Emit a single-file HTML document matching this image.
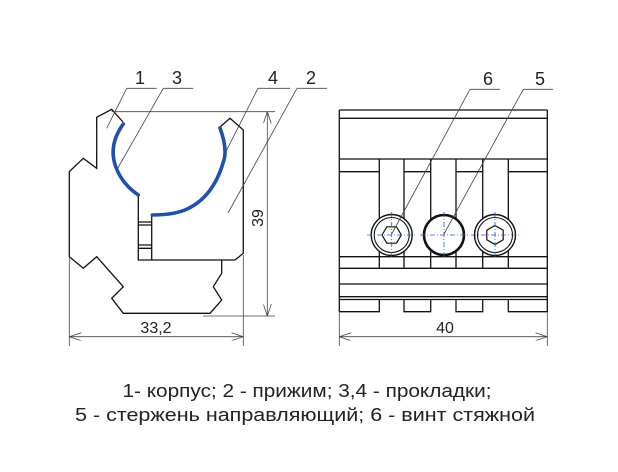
<!DOCTYPE html>
<html><head><meta charset="utf-8"><style>
html,body{margin:0;padding:0;background:#fff;}
svg{display:block;}
text{font-family:"Liberation Sans",Arial,sans-serif;fill:#222;}
</style></head><body>
<svg width="618" height="472" viewBox="0 0 618 472" xmlns="http://www.w3.org/2000/svg">
<defs>
<marker id="ar" viewBox="0 0 12 8" refX="12" refY="4" markerWidth="12" markerHeight="8" orient="auto-start-reverse" markerUnits="userSpaceOnUse">
<path d="M0,0 L12,4 L0,8" fill="none" stroke="#444" stroke-width="0.8"/>
</marker>
</defs>
<rect width="618" height="472" fill="#fff"/>
<g fill="none" stroke="#111" stroke-width="1.3" stroke-linejoin="miter">
<path d="M123,122 L111.7,109.3 L96.7,117.3 L96.7,168.3 L83.3,158.3 L69.3,171.7 L69.3,256.7 L83.3,268.3 L96.7,256.7 L123.3,286.7 L111.7,298.3 L123.3,313.3 L210,313.3 L221.7,300 L213.3,286.7 L221.7,273.3 L221.7,260 L235,260 L243.3,253.3 L243.3,130 L230,118.3 L220,127"/>
<path d="M138.3,195 L138.3,260 L221.7,260"/>
<path d="M151.7,214 L151.7,260"/>
<path d="M138.3,222 H151.7 M138.3,225 H151.7 M138.3,245 H151.7 M138.3,248.3 H151.7"/>
</g>
<g fill="none" stroke="#1f4fb0" stroke-width="3.6" stroke-linecap="round">
<path d="M123.3,124 Q108,145 115.7,166.7 Q122,184 138.3,195"/>
<path d="M220,128 Q228,150 223.3,162 Q213,198 185,210 Q172,215 152.3,215"/>
</g>
<g stroke="#444" stroke-width="0.8" fill="none">
<path d="M111.7,111.7 H275 M203,316 H275"/>
<path d="M267.3,111.7 V316" marker-start="url(#ar)" marker-end="url(#ar)"/>
<path d="M69.3,258 V346 M243.3,255 V346"/>
<path d="M69.3,336.7 H243.3" marker-start="url(#ar)" marker-end="url(#ar)"/>
<path d="M126.7,88.3 H156.7 M126.7,88.3 L106.7,128.3"/>
<path d="M163.3,88.3 H193.3 M163.3,88.3 L116.7,170"/>
<path d="M258,88.3 H290 M258,88.3 L225,153.3"/>
<path d="M297,88.3 H327 M297,88.3 L228,213"/>
</g>
<text x="140" y="84" font-size="18" text-anchor="middle">1</text>
<text x="177" y="84" font-size="18" text-anchor="middle">3</text>
<text x="273" y="84" font-size="18" text-anchor="middle">4</text>
<text x="311" y="84" font-size="18" text-anchor="middle">2</text>
<text x="156" y="333" font-size="16" text-anchor="middle">33,2</text>
<text x="0" y="0" font-size="16" text-anchor="middle" transform="translate(263,218) rotate(-90)">39</text>
<g fill="none" stroke="#111" stroke-width="1.3">
<path d="M339.3,110 H547.3 M339.3,118.3 H547.3 M339.3,159 H547.3"/>
<path d="M339.3,110 V311.7 M547.3,110 V311.7"/>
<path d="M379.3,159 V268.3 M404,159 V268.3 M430.7,159 V268.3 M456,159 V268.3 M482.7,159 V268.3 M508.3,159 V268.3"/>
<path d="M339.3,171.7 H379.3 M404,171.7 H430.7 M456,171.7 H482.7 M508.3,171.7 H547.3"/>
<path d="M339.3,256.7 H547.3 M339.3,268.3 H547.3 M339.3,284 H547.3 M339.3,296.7 H547.3 M339.3,299.5 H547.3"/>
<path d="M339.3,311.7 H379.3 V299.5 M404,299.5 V311.7 H430.7 V299.5 M456,299.5 V311.7 H482.7 V299.5 M508.3,299.5 V311.7 H547.3"/>
</g>
<g fill="#fff" stroke="#111">
<circle cx="391.7" cy="235" r="20.5" stroke-width="1.4"/>
<circle cx="391.7" cy="235" r="17.5" stroke-width="1.1"/>
<circle cx="444" cy="235" r="20" stroke-width="2.6"/>
<circle cx="495" cy="235" r="20.5" stroke-width="1.4"/>
<circle cx="495" cy="235" r="17.5" stroke-width="1.1"/>
<polygon points="382,235 386.8,226.8 396.5,226.8 401.3,235 396.5,243.2 386.8,243.2" stroke-width="1.2"/>
<polygon points="495,225.5 503.2,230.2 503.2,239.8 495,244.5 486.8,239.8 486.8,230.2" stroke-width="1.2"/>
</g>
<g stroke="#2a5cc0" stroke-width="0.8" stroke-dasharray="5,2,1,2" fill="none">
<path d="M367,235 H416 M391.7,212 V258"/>
<path d="M420,235 H468 M444,212 V258"/>
<path d="M471,235 H519 M495,212 V258"/>
</g>
<g stroke="#444" stroke-width="0.8" fill="none">
<path d="M470,89.3 H500 M470,89.3 L391.7,234"/>
<path d="M523.3,89.3 H553 M523.3,89.3 L444,234"/>
<path d="M339.3,312 V346 M547.3,312 V346"/>
<path d="M339.3,336.7 H547.3" marker-start="url(#ar)" marker-end="url(#ar)"/>
</g>
<text x="488" y="85" font-size="18" text-anchor="middle">6</text>
<text x="540" y="85" font-size="18" text-anchor="middle">5</text>
<text x="445" y="333" font-size="16" text-anchor="middle">40</text>
<text x="307" y="397" font-size="18.5" text-anchor="middle" textLength="369" lengthAdjust="spacingAndGlyphs">1- корпус; 2 - прижим; 3,4 - прокладки;</text>
<text x="305" y="421" font-size="18.5" text-anchor="middle" textLength="460" lengthAdjust="spacingAndGlyphs">5 - стержень направляющий; 6 - винт стяжной</text>
</svg>
</body></html>
